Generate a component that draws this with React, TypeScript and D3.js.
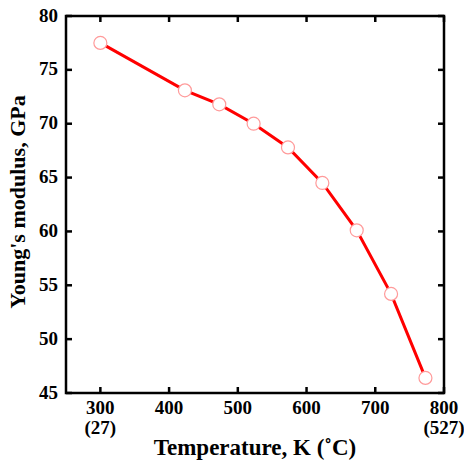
import React from "react";
import * as d3 from "d3";

const temps = [300, 423, 473, 523, 573, 623, 673, 723, 773];
const modulus = [77.5, 73.1, 71.8, 70.0, 67.8, 64.5, 60.1, 54.2, 46.4];
const xTicks = [300, 400, 500, 600, 700, 800];
const yTicks = [45, 50, 55, 60, 65, 70, 75, 80];
const celsiusLabels = [
  { k: 300, label: "(27)" },
  { k: 800, label: "(527)" },
];

const W = 464;
const H = 462;
const L = 66, R = 444, T = 16, B = 393;

export default function App() {
  const x = d3.scaleLinear().domain([250, 800]).range([L, R]);
  const y = d3.scaleLinear().domain([45, 80]).range([B, T]);
  const line = d3
    .line<number>()
    .x((_, i) => x(temps[i]))
    .y((d) => y(d));
  const font = "'Liberation Serif', 'Times New Roman', serif";
  const tl = 6;
  const fs = 19;
  return (
    <svg
      width={W}
      height={H}
      style={{ position: "absolute", left: 0, top: 0, background: "#fff" }}
      fontFamily={font}
    >
      <rect x={L} y={T} width={R - L} height={B - T} fill="none" stroke="#000" strokeWidth={2.5} />
      {xTicks.map((t) => (
        <g key={"x" + t}>
          <line x1={x(t)} x2={x(t)} y1={B} y2={B - tl} stroke="#000" strokeWidth={2.5} />
          <line x1={x(t)} x2={x(t)} y1={T} y2={T + tl} stroke="#000" strokeWidth={2.5} />
          <text x={x(t)} y={B + 21} textAnchor="middle" fontSize={fs} fontWeight="bold">
            {t}
          </text>
        </g>
      ))}
      {celsiusLabels.map((c) => (
        <text key={"c" + c.k} x={x(c.k)} y={B + 41} textAnchor="middle" fontSize={fs} fontWeight="bold">
          {c.label}
        </text>
      ))}
      {yTicks.map((t) => (
        <g key={"y" + t}>
          <line x1={L} x2={L + tl} y1={y(t)} y2={y(t)} stroke="#000" strokeWidth={2.5} />
          <line x1={R} x2={R - tl} y1={y(t)} y2={y(t)} stroke="#000" strokeWidth={2.5} />
          <text x={L - 8} y={y(t) + 5.5} textAnchor="end" fontSize={fs} fontWeight="bold">
            {t}
          </text>
        </g>
      ))}
      <path d={line(modulus) || ""} fill="none" stroke="#ff0000" strokeWidth={3} />
      {modulus.map((v, i) => (
        <circle key={i} cx={x(temps[i])} cy={y(v)} r={6.5} fill="#fff" stroke="#ff9a9a" strokeWidth={1.2} />
      ))}
      <text x={255} y={455} textAnchor="middle" fontSize={23} fontWeight="bold">
        Temperature, K (˚C)
      </text>
      <text
        transform={`translate(25, 202) rotate(-90)`}
        textAnchor="middle"
        fontSize={22}
        fontWeight="bold"
      >
        Young's modulus, GPa
      </text>
    </svg>
  );
}
